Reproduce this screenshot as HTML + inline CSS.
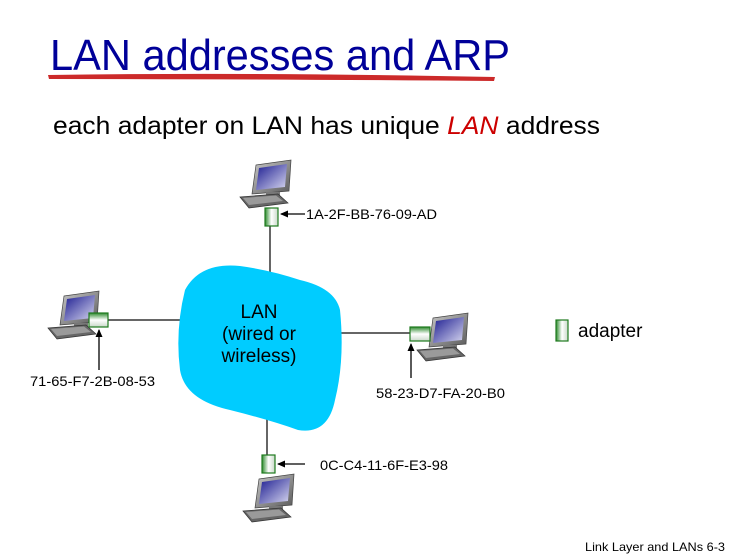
<!DOCTYPE html>
<html><head><meta charset="utf-8"><style>
html,body{margin:0;padding:0;background:#fff;}
svg{display:block;font-family:"Liberation Sans",sans-serif;}
</style></head><body>
<svg width="747" height="555" viewBox="0 0 747 555" xmlns="http://www.w3.org/2000/svg">
<defs>
<linearGradient id="scr" x1="0" y1="0" x2="1" y2="1"><stop offset="0" stop-color="#1a1a90"/><stop offset="1" stop-color="#d8d8f0"/></linearGradient>
<linearGradient id="bez" x1="0" y1="0" x2="1" y2="1"><stop offset="0" stop-color="#c8c8c8"/><stop offset="1" stop-color="#5a5a5a"/></linearGradient>
<linearGradient id="adV" x1="0" y1="0" x2="1" y2="0"><stop offset="0" stop-color="#2e8b2e"/><stop offset="0.5" stop-color="#ffffff"/><stop offset="1" stop-color="#c8d8c8"/></linearGradient>
<linearGradient id="adH" x1="0" y1="0" x2="0" y2="1"><stop offset="0" stop-color="#2e8b2e"/><stop offset="0.5" stop-color="#ffffff"/><stop offset="1" stop-color="#c8d8c8"/></linearGradient>
<g id="pc">
<polygon points="4,2 39,-3 37,28 0,31" fill="url(#bez)" stroke="#444" stroke-width="0.7"/>
<polygon points="7,5 35,1 33,24 4,27" fill="url(#scr)"/>
<rect x="14" y="29" width="14" height="4" fill="#777"/>
<polygon points="-12,34 26,31 36,40 -3,45" fill="#666" stroke="#333" stroke-width="0.7"/>
<polygon points="-9,35 24,32.5 31,38 -3,42" fill="#9a9a9a"/>
</g>
<marker id="ah" markerWidth="8" markerHeight="8" refX="7" refY="4" orient="auto" markerUnits="userSpaceOnUse"><path d="M0,0.5 L8,4 L0,7.5 z" fill="#000"/></marker>
</defs>

<text x="50" y="70" font-size="44" fill="#000099" textLength="460" lengthAdjust="spacingAndGlyphs">LAN addresses and ARP</text>
<path d="M48,75 Q250,72 495,77 L494,81 Q250,79 49,79 Z" fill="#cc2a2a"/>

<text x="53" y="134" font-size="25" fill="#000" textLength="547" lengthAdjust="spacingAndGlyphs">each adapter on LAN has unique <tspan fill="#cc0000" font-style="italic">LAN</tspan> address</text>

<!-- links -->
<g stroke="#666" stroke-width="2">
<line x1="270" y1="225" x2="270" y2="282"/>
<line x1="107" y1="320" x2="180" y2="320"/>
<line x1="340" y1="333" x2="410" y2="333"/>
<line x1="267" y1="415" x2="267" y2="456"/>
</g>

<!-- cloud -->
<path d="M185,290 Q200,262 240,266 Q270,270 300,280 Q335,288 340,310 Q345,360 335,400 Q328,435 298,430 Q270,420 230,410 Q185,400 180,370 Q175,330 185,290 Z" fill="#00ccff"/>
<text x="259" y="318" font-size="19" text-anchor="middle">LAN</text>
<text x="259" y="340" font-size="19" text-anchor="middle">(wired or</text>
<text x="259" y="362" font-size="19" text-anchor="middle">wireless)</text>

<!-- computers -->
<use href="#pc" x="252" y="163"/>
<use href="#pc" x="60" y="294"/>
<use href="#pc" x="429" y="316"/>
<use href="#pc" x="255" y="477"/>

<!-- adapters -->
<rect x="265" y="208" width="13" height="18" fill="url(#adV)" stroke="#1e7a1e" stroke-width="1.2"/>
<rect x="89" y="313" width="19" height="14" fill="url(#adH)" stroke="#1e7a1e" stroke-width="1.2"/>
<rect x="410" y="327" width="20" height="14" fill="url(#adH)" stroke="#1e7a1e" stroke-width="1.2"/>
<rect x="262" y="455" width="13" height="18" fill="url(#adV)" stroke="#1e7a1e" stroke-width="1.2"/>
<rect x="556" y="320" width="12" height="21" fill="url(#adV)" stroke="#1e7a1e" stroke-width="1.2"/>

<!-- arrows -->
<g stroke="#000" stroke-width="1.3">
<line x1="305" y1="214" x2="281" y2="214" marker-end="url(#ah)"/>
<line x1="99" y1="370" x2="99" y2="330" marker-end="url(#ah)"/>
<line x1="411" y1="378" x2="411" y2="344" marker-end="url(#ah)"/>
<line x1="305" y1="464" x2="278" y2="464" marker-end="url(#ah)"/>
</g>

<g font-size="14" fill="#000">
<text x="306" y="219" textLength="131" lengthAdjust="spacingAndGlyphs">1A-2F-BB-76-09-AD</text>
<text x="30" y="386" textLength="125" lengthAdjust="spacingAndGlyphs">71-65-F7-2B-08-53</text>
<text x="376" y="398" textLength="129" lengthAdjust="spacingAndGlyphs">58-23-D7-FA-20-B0</text>
<text x="320" y="470" textLength="128" lengthAdjust="spacingAndGlyphs">0C-C4-11-6F-E3-98</text>
</g>
<text x="578" y="337" font-size="19">adapter</text>
<text x="585" y="551" font-size="12" textLength="140" lengthAdjust="spacingAndGlyphs">Link Layer and LANs  6-3</text>
</svg>
</body></html>
